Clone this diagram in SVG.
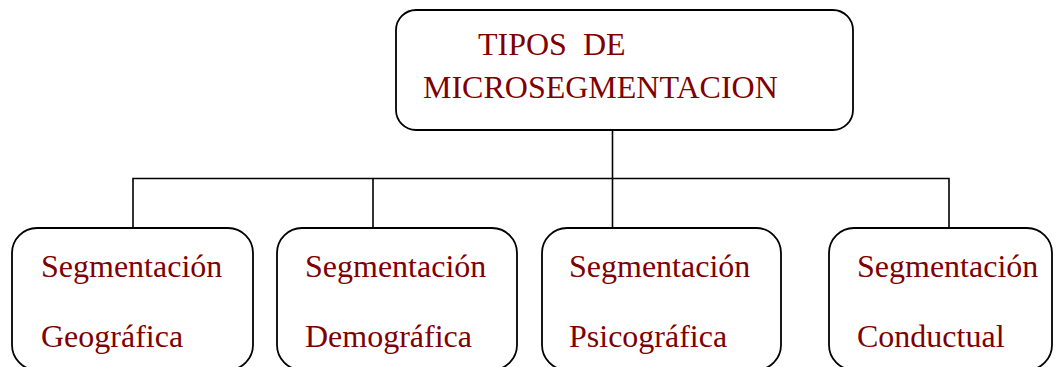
<svg xmlns="http://www.w3.org/2000/svg" width="1058" height="367" viewBox="0 0 1058 367">
<style>
.box{fill:#fff;stroke:#000;stroke-width:1.8}
.lbl{font-family:"Liberation Serif","Times New Roman",serif;font-size:32px;fill:#800000}
.con{fill:none;stroke:#000;stroke-width:1.6}
</style>
<rect width="1058" height="367" fill="#fff"/>
<g id="connectors">
<path class="con" d="M612.5 130V178.5M133 227V178.5H949V227M373 178.5V227M612.5 178.5V227"/>
</g>
<g id="root">
<rect class="box" x="396" y="10" width="457" height="120" rx="20"/>
<text class="lbl"><tspan x="478" y="55">TIPOS</tspan><tspan x="583" y="55">DE</tspan><tspan x="423" y="98">MICROSEGMENTACION</tspan></text>
</g>
<g id="geografica">
<rect class="box" x="12" y="228" width="241" height="142" rx="25"/>
<text class="lbl"><tspan x="41" y="277">Segmentación</tspan><tspan x="41" y="347">Geográfica</tspan></text>
</g>
<g id="demografica">
<rect class="box" x="277" y="228" width="240" height="142" rx="25"/>
<text class="lbl"><tspan x="305" y="277">Segmentación</tspan><tspan x="305" y="347">Demográfica</tspan></text>
</g>
<g id="psicografica">
<rect class="box" x="542" y="228" width="239" height="142" rx="25"/>
<text class="lbl"><tspan x="569" y="277">Segmentación</tspan><tspan x="569" y="347">Psicográfica</tspan></text>
</g>
<g id="conductual">
<rect class="box" x="829" y="228" width="223" height="142" rx="25"/>
<text class="lbl"><tspan x="857" y="277">Segmentación</tspan><tspan x="857" y="347">Conductual</tspan></text>
</g>
</svg>
